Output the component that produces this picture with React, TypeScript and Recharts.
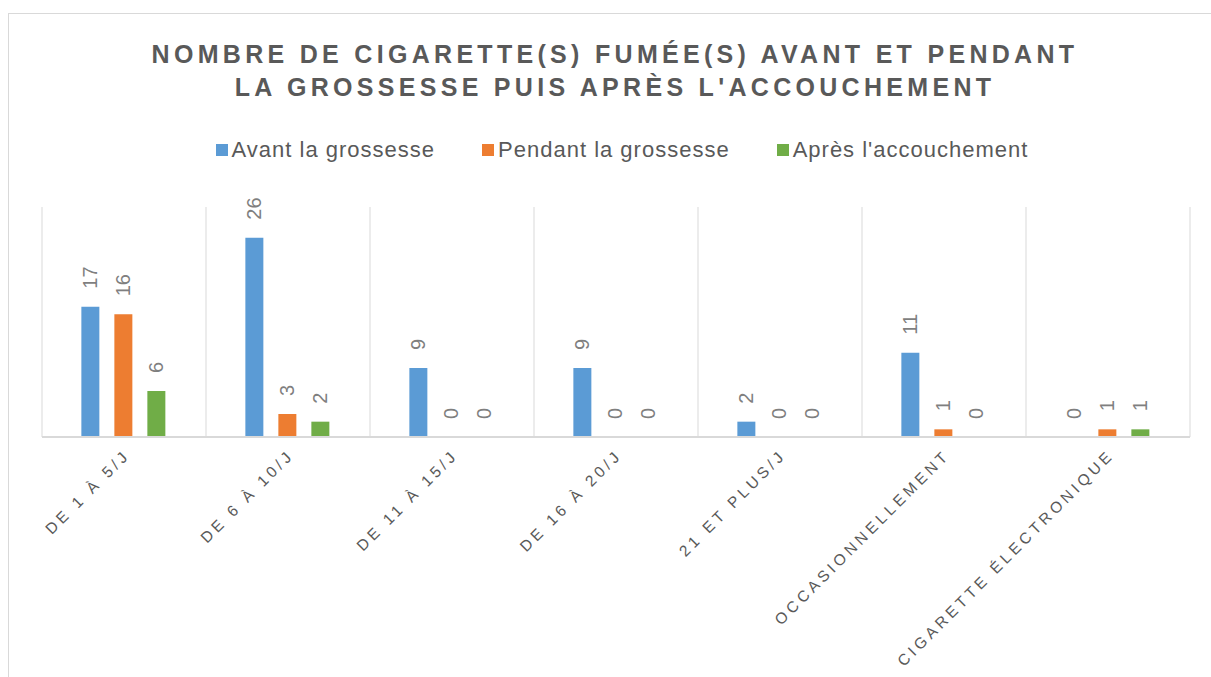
import React, { FC } from 'react';
import {
  BarChart,
  Bar,
  XAxis,
  YAxis,
  CartesianGrid,
  Legend,
  LabelList
} from 'recharts';

const categories: string[] = [
  'DE 1 À 5/J',
  'DE 6 À 10/J',
  'DE 11 À 15/J',
  'DE 16 À 20/J',
  '21 ET PLUS/J',
  'OCCASIONNELLEMENT',
  'CIGARETTE ÉLECTRONIQUE'
];

const avant: number[] = [17, 26, 9, 9, 2, 11, 0];
const pendant: number[] = [16, 3, 0, 0, 0, 1, 1];
const apres: number[] = [6, 2, 0, 0, 0, 0, 1];

const series = [
  { key: 'avant', name: 'Avant la grossesse', color: '#5B9BD5' },
  { key: 'pendant', name: 'Pendant la grossesse', color: '#ED7D31' },
  { key: 'apres', name: "Après l'accouchement", color: '#70AD47' }
];

const data = categories.map((cat, i) => ({
  cat,
  avant: avant[i],
  pendant: pendant[i],
  apres: apres[i]
}));

const FONT = '"Liberation Sans", Arial, sans-serif';

const ValueLabel: FC<any> = ({ x, y, width, value }) => {
  const cx = x + width / 2;
  const cy = y - 18;
  return (
    <text
      x={cx}
      y={cy}
      transform={`rotate(-90, ${cx}, ${cy})`}
      textAnchor="start"
      dominantBaseline="central"
      fontSize={20}
      fontFamily={FONT}
      fill="#7F7F7F"
    >
      {value}
    </text>
  );
};

const CategoryTick: FC<any> = ({ x, y, payload }) => {
  const ax = x + 7;
  const ay = y + 19;
  return (
    <text
      x={ax}
      y={ay}
      transform={`rotate(-45, ${ax}, ${ay})`}
      textAnchor="end"
      fontSize={15.5}
      letterSpacing={3.8}
      fontFamily={FONT}
      fill="#595959"
    >
      {payload.value}
    </text>
  );
};

const CustomLegend: FC = () => {
  return (
    <div
      style={{
        display: 'flex',
        justifyContent: 'center',
        alignItems: 'center',
        paddingLeft: 33,
        fontFamily: FONT,
        fontSize: 22,
        lineHeight: '26px',
        letterSpacing: 1,
        color: '#595959'
      }}
    >
      {series.map((s, i) => (
        <div
          key={s.key}
          style={{ display: 'flex', alignItems: 'center', marginLeft: i === 0 ? 0 : 47 }}
        >
          <div style={{ width: 12, height: 12, background: s.color, marginRight: 4 }} />
          <span>{s.name}</span>
        </div>
      ))}
    </div>
  );
};

// vertical grid lines sit on the borders between categories
const boundaryLines = ({ offset }: any) =>
  Array.from({ length: categories.length + 1 }, (_, i) => offset.left + (i * offset.width) / categories.length);

const App: FC = () => {
  return (
    <div
      style={{
        position: 'fixed',
        left: 0,
        top: 0,
        width: 1211,
        height: 677,
        overflow: 'hidden',
        background: '#fff'
      }}
    >
      <div
        style={{
          position: 'absolute',
          left: 8,
          top: 13,
          width: 1300,
          height: 800,
          border: '1px solid #D9D9D9'
        }}
      />
      <div
        style={{
          position: 'absolute',
          left: 0,
          top: 38,
          width: 1230,
          textAlign: 'center',
          fontFamily: FONT,
          fontWeight: 'bold',
          fontSize: 25,
          lineHeight: '33px',
          letterSpacing: 4.3,
          color: '#595959'
        }}
      >
        NOMBRE DE CIGARETTE(S) FUMÉE(S) AVANT ET PENDANT
        <br />
        LA GROSSESSE PUIS APRÈS L'ACCOUCHEMENT
      </div>
      <div style={{ position: 'absolute', left: 0, top: 0 }}>
        <BarChart
          width={1211}
          height={677}
          data={data}
          margin={{ top: 207, right: 21, left: 42, bottom: 40 }}
          barCategoryGap="24%"
          barGap={15}
        >
          <CartesianGrid
            horizontal={false}
            stroke="#D9D9D9"
            verticalCoordinatesGenerator={boundaryLines}
          />
          <XAxis
            dataKey="cat"
            height={200}
            interval={0}
            tickLine={false}
            tickSize={0}
            tickMargin={0}
            axisLine={{ stroke: '#D9D9D9', strokeWidth: 2 }}
            tick={<CategoryTick />}
          />
          <YAxis hide domain={[0, 30]} />
          <Legend
            content={<CustomLegend />}
            verticalAlign="middle"
            align="center"
            wrapperStyle={{ top: 137, left: 0, width: 1211 }}
          />
          {series.map((s) => (
            <Bar
              key={s.key}
              dataKey={s.key}
              name={s.name}
              fill={s.color}
              minPointSize={0.01}
              isAnimationActive={false}
            >
              <LabelList dataKey={s.key} content={<ValueLabel />} />
            </Bar>
          ))}
        </BarChart>
      </div>
    </div>
  );
};

export default App;
